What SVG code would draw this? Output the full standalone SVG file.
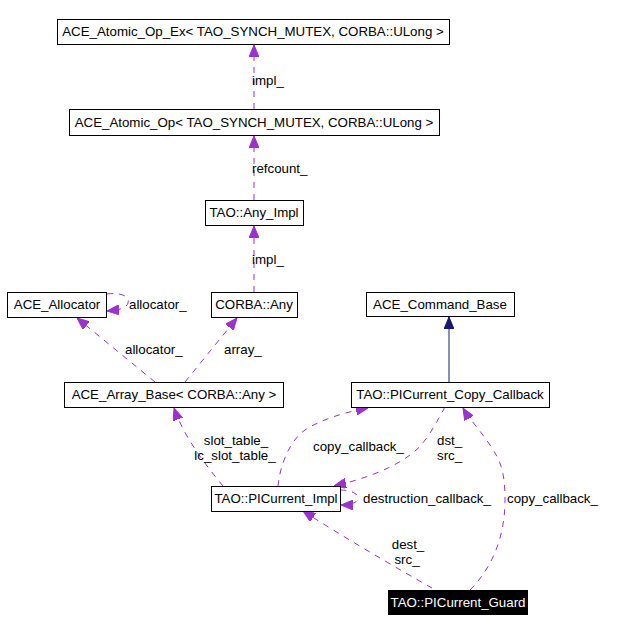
<svg xmlns="http://www.w3.org/2000/svg" width="644" height="632" viewBox="0 0 644 632">
<style>
text{font-family:"Liberation Sans",Arial,sans-serif;font-size:13.3px;fill:#000}
.box{fill:#fff;stroke:#000;stroke-width:1}
.e{fill:none;stroke:#9a32cd;stroke-width:1;stroke-dasharray:6,6}
.c{text-anchor:middle}
</style>
<defs>
<marker id="ap" markerWidth="12" markerHeight="10" refX="12" refY="5" orient="auto" markerUnits="userSpaceOnUse">
<path d="M0,0 L12,5 L0,10 Z" fill="#9a32cd" stroke="#9a32cd"/>
</marker>
<marker id="an" markerWidth="12" markerHeight="10" refX="12" refY="5" orient="auto" markerUnits="userSpaceOnUse">
<path d="M0,0 L12,5 L0,10 Z" fill="#191970" stroke="#191970"/>
</marker>
</defs>
<rect width="644" height="632" fill="#fff"/>
<g id="edges">
<path class="e" d="M254,109 L254,45" marker-end="url(#ap)"/>
<path class="e" d="M254,200 L254,136" marker-end="url(#ap)"/>
<path class="e" d="M254,292 L254,226" marker-end="url(#ap)"/>
<path class="e" d="M107,294 C122,292 130,297 128,303 C126,309 118,310 107,311" marker-end="url(#ap)"/>
<path class="e" d="M155,382 L77,318" marker-end="url(#ap)"/>
<path class="e" d="M185,382 L237,318" marker-end="url(#ap)"/>
<path fill="none" stroke="#191970" d="M449,382 L449,317" marker-end="url(#an)"/>
<path class="e" d="M223,486 C210,470 185,440 174,408" marker-end="url(#ap)"/>
<path class="e" d="M278,486 C280,465 290,440 305,430 C320,420 345,412 368,408" marker-end="url(#ap)"/>
<path class="e" d="M445,407 C435,425 425,445 410,455 C390,470 360,480 334,486" marker-end="url(#ap)"/>
<path class="e" d="M340,490 C352,490 358,494 358,498 C358,502 352,505 341,505" marker-end="url(#ap)"/>
<path class="e" d="M470,590 C490,570 505,540 505,500 C505,470 500,460 490,445 C480,430 470,420 463,408" marker-end="url(#ap)"/>
<path class="e" d="M432,588 C400,570 340,535 303,511" marker-end="url(#ap)"/>
</g>
<g id="labels">
<text x="252" y="85">impl_</text>
<text x="252" y="173">refcount_</text>
<text x="252" y="264">impl_</text>
<text x="129" y="309">allocator_</text>
<text x="125" y="354">allocator_</text>
<text x="224" y="354">array_</text>
<text x="236" y="445" class="c">slot_table_</text>
<text x="235" y="460" class="c">lc_slot_table_</text>
<text x="313" y="451">copy_callback_</text>
<text x="437" y="445">dst_</text>
<text x="437" y="460">src_</text>
<text x="363" y="503">destruction_callback_</text>
<text x="507" y="503">copy_callback_</text>
<text x="408" y="549" class="c">dest_</text>
<text x="407" y="564" class="c">src_</text>
</g>
<g id="n1"><rect class="box" x="57.5" y="19.5" width="392" height="25"/><text x="253" y="36" class="c">ACE_Atomic_Op_Ex&lt; TAO_SYNCH_MUTEX, CORBA::ULong &gt;</text></g>
<g id="n2"><rect class="box" x="69.5" y="109.5" width="370" height="26"/><text x="254" y="127" class="c">ACE_Atomic_Op&lt; TAO_SYNCH_MUTEX, CORBA::ULong &gt;</text></g>
<g id="n3"><rect class="box" x="205.5" y="200.5" width="98" height="25"/><text x="254" y="217" class="c">TAO::Any_Impl</text></g>
<g id="n4"><rect class="box" x="7.5" y="292.5" width="99" height="25"/><text x="57" y="309" class="c">ACE_Allocator</text></g>
<g id="n5"><rect class="box" x="211.5" y="292.5" width="86" height="25"/><text x="254" y="309" class="c">CORBA::Any</text></g>
<g id="n6"><rect class="box" x="366.5" y="292.5" width="148" height="24"/><text x="440" y="309" class="c">ACE_Command_Base</text></g>
<g id="n7"><rect class="box" x="64.5" y="382.5" width="219" height="25"/><text x="174" y="399" class="c">ACE_Array_Base&lt; CORBA::Any &gt;</text></g>
<g id="n8"><rect class="box" x="351.5" y="382.5" width="198" height="25"/><text x="450" y="399" class="c">TAO::PICurrent_Copy_Callback</text></g>
<g id="n9"><rect class="box" x="211.5" y="486.5" width="129" height="25"/><text x="276" y="503" class="c">TAO::PICurrent_Impl</text></g>
<g id="n10"><rect x="388" y="590" width="140" height="25" fill="#000"/><text x="458" y="607" class="c" style="fill:#fff">TAO::PICurrent_Guard</text></g>
</svg>
